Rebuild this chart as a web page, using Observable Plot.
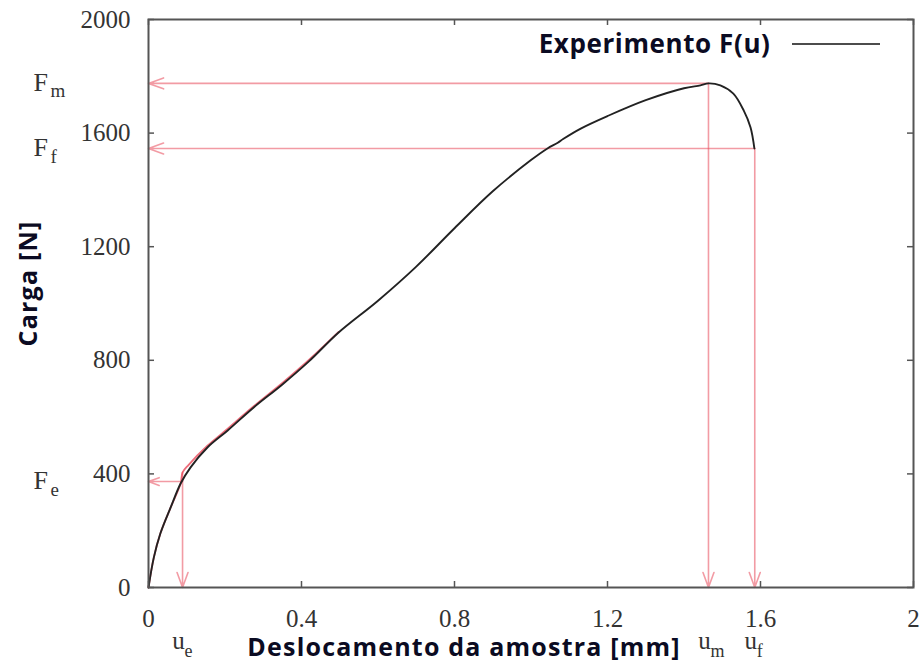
<!DOCTYPE html>
<html><head><meta charset="utf-8">
<script src="https://cdn.jsdelivr.net/npm/d3@7"></script>
<script src="https://cdn.jsdelivr.net/npm/@observablehq/plot@0.6"></script>
<style>body{margin:0;background:#fff}</style>
</head><body><div id="chart"></div>
<script>
// Experimental load-displacement curve F(u)
const curveU = [0, 0.014, 0.031, 0.058, 0.084, 0.11, 0.154, 0.207, 0.275, 0.35, 0.42, 0.497, 0.6, 0.7, 0.8, 0.9, 1.0, 1.043, 1.07, 1.085, 1.13, 1.2, 1.3, 1.4, 1.443, 1.464, 1.495, 1.529, 1.556, 1.574, 1.584];
const curveF = [0, 106, 190, 282, 366, 423, 493, 553, 634, 715, 797, 898, 1010, 1130, 1265, 1395, 1505, 1546, 1566, 1580, 1616, 1660, 1716, 1758, 1768, 1775, 1768, 1739, 1680, 1620, 1546];
// red fitted curve (elastic part + hardening)
const fitU = [0, 0.014, 0.031, 0.058, 0.084, 0.089, 0.105, 0.154, 0.207, 0.275, 0.35, 0.42, 0.497];
const fitF = [0, 106, 190, 282, 366, 405, 432, 499, 559, 638, 720, 802, 900];
// characteristic points: e (elastic), m (maximum), f (failure)
const ptSub = ["e", "m", "f"];
const ptU = [0.089, 1.464, 1.585];
const ptF = [373, 1775, 1546];
const ptVertTop = [405, 1775, 1546];
// ticks
const xTicks = [0, 0.4, 0.8, 1.2, 1.6, 2];
const yTicks = [0, 400, 800, 1200, 1600, 2000];
const xLabel = "Deslocamento da amostra [mm]";
const yLabel = "Carga [N]";
const legendLabel = "Experimento F(u)";

const curve = curveU.map((u, i) => ({u, F: curveF[i]}));
const fit = fitU.map((u, i) => ({u, F: fitF[i]}));
const pts = ptSub.map((s, i) => ({s, u: ptU[i], F: ptF[i], top: ptVertTop[i]}));

const serif = "Liberation Serif, Times New Roman, serif";
const sans = "Open Sans, DejaVu Sans, sans-serif";
const red = "#e8485a";
const ink = "#0b0b22";
const W = 923, H = 664, mL = 148, mR = 10, mT = 19, mB = 77;
const fw = W - mL - mR, fh = H - mT - mB, tk = 6;

const legendMark = (index, scales, values, dims) => {
  const g = d3.create("svg:g");
  const R = dims ? dims.width - dims.marginRight : W - mR;
  const T = dims ? dims.marginTop : mT;
  g.append("line").attr("x1", R - 121).attr("x2", R - 33)
    .attr("y1", T + 25).attr("y2", T + 25)
    .attr("stroke", "#111").attr("stroke-width", 1.6);
  return g.node();
};

const chart = Plot.plot({
  width: W, height: H,
  marginLeft: mL, marginRight: mR, marginTop: mT, marginBottom: mB,
  x: {domain: [0, 2]},
  y: {domain: [0, 2000]},
  style: {background: "#fff", color: "#333"},
  marks: [
    // tick labels
    Plot.axisX({ticks: xTicks, tickSize: 0, tickPadding: 22, fontSize: 25, fontFamily: serif, fill: "#333", label: null, tickFormat: d => String(d)}),
    Plot.axisY({ticks: yTicks, tickSize: 0, tickPadding: 18, fontSize: 25, fontFamily: serif, fill: "#333", label: null, tickFormat: d => String(d)}),
    // inward ticks on all sides
    Plot.tickX(xTicks, {x: d => d, insetTop: fh - tk, stroke: "#555", strokeWidth: 1.5}),
    Plot.tickX(xTicks, {x: d => d, insetBottom: fh - tk, stroke: "#555", strokeWidth: 1.5}),
    Plot.tickY(yTicks, {y: d => d, insetRight: fw - tk, stroke: "#555", strokeWidth: 1.5}),
    Plot.tickY(yTicks, {y: d => d, insetLeft: fw - tk, stroke: "#555", strokeWidth: 1.5}),
    // red guide lines with arrows
    Plot.arrow(pts, {x1: "u", y1: "F", x2: () => 0, y2: "F", stroke: red, strokeOpacity: 0.55, strokeWidth: 1.6, headLength: 15, headAngle: 40}),
    Plot.arrow(pts, {x1: "u", y1: "top", x2: "u", y2: () => 0, stroke: red, strokeOpacity: 0.55, strokeWidth: 1.6, headLength: 15, headAngle: 40}),
    Plot.line(fit, {x: "u", y: "F", stroke: red, strokeOpacity: 0.8, strokeWidth: 1.8, curve: "catmull-rom"}),
    // experimental curve
    Plot.line(curve, {x: "u", y: "F", stroke: "#222", strokeWidth: 1.9, curve: "catmull-rom"}),
    Plot.frame({stroke: "#555", strokeWidth: 2}),
    // F labels with subscripts
    Plot.text(pts, {y: "F", frameAnchor: "left", text: () => "F", dx: -115, dy: -1, textAnchor: "start", lineAnchor: "middle", fontSize: 26, fontFamily: serif, fill: "#333"}),
    Plot.text(pts, {y: "F", frameAnchor: "left", text: "s", dx: -98, dy: 8, textAnchor: "start", lineAnchor: "middle", fontSize: 19, fontFamily: serif, fill: "#333"}),
    // u labels with subscripts
    Plot.text(pts, {x: "u", frameAnchor: "bottom", text: () => "u", dx: -4, dy: 53, lineAnchor: "middle", fontSize: 25, fontFamily: serif, fill: "#333"}),
    Plot.text(pts, {x: "u", frameAnchor: "bottom", text: "s", dx: 2, dy: 64, textAnchor: "start", lineAnchor: "middle", fontSize: 18, fontFamily: serif, fill: "#333"}),
    // axis titles
    Plot.text([xLabel], {frameAnchor: "bottom", text: d => d, dx: -67, dy: 60, textAnchor: "middle", lineAnchor: "middle", fontSize: 25, fontWeight: 700, fontFamily: sans, fill: ink}),
    Plot.text([yLabel], {frameAnchor: "left", text: d => d, dx: -120, dy: -20, rotate: -90, textAnchor: "middle", lineAnchor: "middle", fontSize: 25, fontWeight: 700, fontFamily: sans, fill: ink}),
    // legend
    Plot.text([legendLabel], {frameAnchor: "top-right", text: d => d, dx: -143, dy: 25, textAnchor: "end", lineAnchor: "middle", fontSize: 26, fontWeight: 700, fontFamily: sans, fill: ink}),
    legendMark
  ]
});
// slightly wider letter spacing for the sans titles, as in the reference
d3.select(chart).selectAll("text").each(function() {
  const t = this.textContent;
  if (t === xLabel) this.style.letterSpacing = "1.2px";
  if (t === yLabel) this.style.letterSpacing = "1.2px";
  if (t === legendLabel) this.style.letterSpacing = "0.6px";
});
document.getElementById("chart").appendChild(chart);
</script>
</body></html>
